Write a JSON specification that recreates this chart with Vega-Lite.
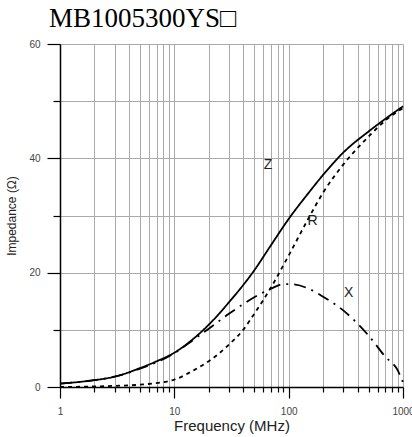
{
  "$schema": "https://vega.github.io/schema/vega-lite/v6.json",
  "autosize": {"type": "none"},
  "width": 343,
  "height": 343,
  "padding": {"left": 60, "top": 44, "right": 9, "bottom": 50},
  "background": "white",
  "title": {"text": "MB1005300YS□", "anchor": "start", "frame": "group", "font": "Liberation Serif", "fontSize": 27, "fontWeight": "normal", "color": "black", "dx": -11, "offset": 6},
  "config": {"view": {"stroke": null}, "axis": {"labelFont": "Liberation Sans", "titleFont": "Liberation Sans"}},
  "datasets": {
    "curves": [
      {"f": 1, "v": 0.6, "s": "Z"}, {"f": 1.5, "v": 0.9, "s": "Z"}, {"f": 2, "v": 1.2, "s": "Z"}, {"f": 3, "v": 1.8, "s": "Z"}, {"f": 5, "v": 3.3, "s": "Z"}, {"f": 7, "v": 4.5, "s": "Z"}, {"f": 10, "v": 6.0, "s": "Z"}, {"f": 15, "v": 8.6, "s": "Z"}, {"f": 20, "v": 10.9, "s": "Z"}, {"f": 30, "v": 14.8, "s": "Z"}, {"f": 50, "v": 20.4, "s": "Z"}, {"f": 70, "v": 24.8, "s": "Z"}, {"f": 100, "v": 29.4, "s": "Z"}, {"f": 150, "v": 34.0, "s": "Z"}, {"f": 200, "v": 37.1, "s": "Z"}, {"f": 300, "v": 41.0, "s": "Z"}, {"f": 500, "v": 44.7, "s": "Z"}, {"f": 700, "v": 46.9, "s": "Z"}, {"f": 1000, "v": 49.1, "s": "Z"},
      {"f": 1, "v": 0.0, "s": "R"}, {"f": 2, "v": 0.1, "s": "R"}, {"f": 3, "v": 0.2, "s": "R"}, {"f": 5, "v": 0.4, "s": "R"}, {"f": 10, "v": 1.3, "s": "R"}, {"f": 15, "v": 3.0, "s": "R"}, {"f": 20, "v": 4.5, "s": "R"}, {"f": 30, "v": 7.4, "s": "R"}, {"f": 40, "v": 10.0, "s": "R"}, {"f": 50, "v": 12.8, "s": "R"}, {"f": 70, "v": 17.4, "s": "R"}, {"f": 100, "v": 23.0, "s": "R"}, {"f": 150, "v": 29.6, "s": "R"}, {"f": 200, "v": 34.0, "s": "R"}, {"f": 300, "v": 38.9, "s": "R"}, {"f": 500, "v": 43.8, "s": "R"}, {"f": 700, "v": 46.6, "s": "R"}, {"f": 1000, "v": 48.8, "s": "R"},
      {"f": 1, "v": 0.6, "s": "X"}, {"f": 2, "v": 1.2, "s": "X"}, {"f": 3, "v": 1.8, "s": "X"}, {"f": 5, "v": 3.2, "s": "X"}, {"f": 10, "v": 5.9, "s": "X"}, {"f": 15, "v": 8.4, "s": "X"}, {"f": 20, "v": 10.2, "s": "X"}, {"f": 30, "v": 12.8, "s": "X"}, {"f": 40, "v": 14.5, "s": "X"}, {"f": 50, "v": 15.7, "s": "X"}, {"f": 70, "v": 17.2, "s": "X"}, {"f": 90, "v": 18.0, "s": "X"}, {"f": 100, "v": 18.0, "s": "X"}, {"f": 150, "v": 17.2, "s": "X"}, {"f": 200, "v": 15.8, "s": "X"}, {"f": 300, "v": 13.4, "s": "X"}, {"f": 400, "v": 11.1, "s": "X"}, {"f": 500, "v": 9.0, "s": "X"}, {"f": 700, "v": 5.3, "s": "X"}, {"f": 900, "v": 2.9, "s": "X"}, {"f": 1000, "v": 0.8, "s": "X"}
    ],
    "labels": [
      {"f": 66, "v": 38.8, "t": "Z"},
      {"f": 162, "v": 29.0, "t": "R"},
      {"f": 335, "v": 16.4, "t": "X"}
    ]
  },
  "layer": [
    {
      "data": {"name": "curves"},
      "mark": {"type": "line", "interpolate": "monotone", "color": "black", "strokeWidth": 1.8},
      "encoding": {
        "x": {"field": "f", "type": "quantitative",
          "scale": {"type": "log", "domain": [1, 1000], "nice": false},
          "axis": {
            "values": [1,2,3,4,5,6,7,8,9,10,20,30,40,50,60,70,80,90,100,200,300,400,500,600,700,800,900,1000],
            "labelExpr": "indexof([1,10,100,1000], datum.value) >= 0 ? datum.value : ''",
            "tickSize": {"condition": {"test": "indexof([1,10,100,1000], datum.value) >= 0", "value": 11}, "value": 5},
            "tickColor": "black", "tickWidth": 1.2,
            "domainColor": "black", "domainWidth": 1.5,
            "grid": true, "gridColor": "#aaa", "gridWidth": 1,
            "labelFontSize": 10, "labelColor": "#444", "labelPadding": 8, "labelOverlap": false, "labelFlush": false,
            "title": "Frequency (MHz)", "titleFontSize": 15, "titleFontWeight": "normal", "titleColor": "#222", "titlePadding": 2
          }
        },
        "y": {"field": "v", "type": "quantitative",
          "scale": {"domain": [0, 60], "nice": false},
          "axis": {
            "values": [0,10,20,30,40,50,60],
            "labelExpr": "datum.value % 20 === 0 ? datum.label : ''",
            "tickSize": {"condition": {"test": "datum.value % 20 === 0", "value": 13}, "value": 7},
            "tickColor": "black", "tickWidth": 1.2,
            "domainColor": "black", "domainWidth": 1.5,
            "grid": true, "gridColor": "#aaa", "gridWidth": 1,
            "labelFontSize": 10, "labelColor": "#444", "labelPadding": 7,
            "title": "Impedance (Ω)", "titleFontSize": 12, "titleFontWeight": "normal", "titleColor": "#222", "titlePadding": 10
          }
        },
        "detail": {"field": "s"},
        "strokeDash": {"field": "s", "type": "nominal", "scale": {"domain": ["Z", "R", "X"], "range": [[1, 0], [4, 4], [12, 6, 2, 6]]}, "legend": null}
      }
    },
    {
      "data": {"name": "labels"},
      "mark": {"type": "text", "font": "Liberation Sans", "fontSize": 14, "color": "#222"},
      "encoding": {
        "x": {"field": "f", "type": "quantitative"},
        "y": {"field": "v", "type": "quantitative"},
        "text": {"field": "t"}
      }
    }
  ]
}
